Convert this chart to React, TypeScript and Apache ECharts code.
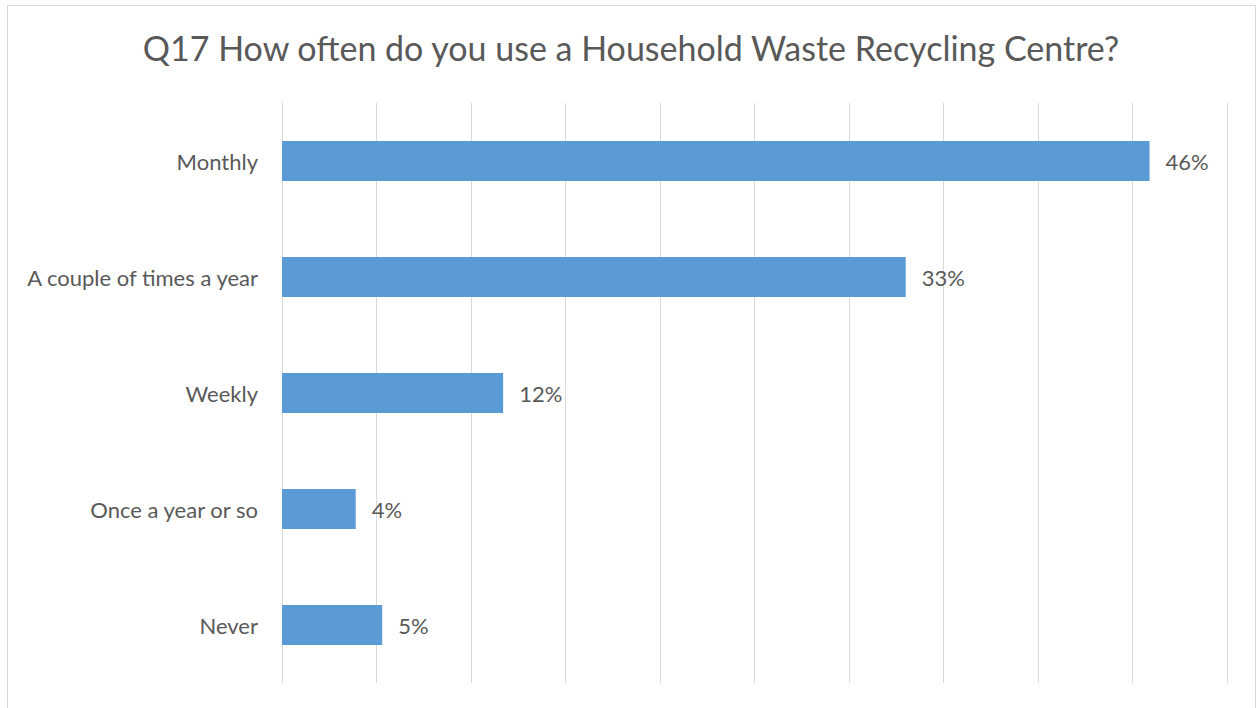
import React, { useEffect, useRef } from "react";
import * as echarts from "echarts";

const titleText = "Q17 How often do you use a Household Waste Recycling Centre?";
const categories = ["Monthly", "A couple of times a year", "Weekly", "Once a year or so", "Never"];
const values = [45.9, 33.0, 11.7, 3.9, 5.3];
const axisMin = 0;
const axisMax = 50;
const axisInterval = 5;

const FONT = "Lato";
const TEXT = "#595959";

export default function App() {
  const ref = useRef<HTMLDivElement>(null);
  useEffect(() => {
    if (!ref.current) return;
    const chart = echarts.init(ref.current, null, { renderer: "svg" });
    chart.setOption({
      animation: false,
      backgroundColor: "#ffffff",
      title: {
        text: titleText,
        left: 626,
        textAlign: "center",
        top: 25,
        textStyle: { fontFamily: FONT, fontSize: 34, fontWeight: "normal", color: TEXT },
      },
      graphic: [
        {
          type: "rect",
          shape: { x: 7.5, y: 5.5, width: 1248, height: 720 },
          style: { fill: "none", stroke: "#d9d9d9", lineWidth: 1 },
          silent: true,
        },
      ],
      grid: { left: 282, right: 30, top: 103, bottom: 25, containLabel: false },
      xAxis: {
        type: "value",
        min: axisMin,
        max: axisMax,
        interval: axisInterval,
        axisLabel: { show: false },
        axisLine: { show: false },
        axisTick: { show: false },
        splitLine: { show: true, lineStyle: { color: "#d9d9d9", width: 1 } },
      },
      yAxis: {
        type: "category",
        data: categories,
        inverse: true,
        axisLine: { show: true, lineStyle: { color: "#d9d9d9", width: 1 } },
        axisTick: { show: false },
        axisLabel: { color: TEXT, fontFamily: FONT, fontSize: 22, margin: 24 },
      },
      series: [
        {
          type: "bar",
          data: values,
          barWidth: 40,
          itemStyle: { color: "#5b9bd5" },
          label: {
            show: true,
            position: "right",
            distance: 16,
            color: TEXT,
            fontFamily: FONT,
            fontSize: 22,
            formatter: (p: any) => Math.round(p.value) + "%",
          },
        },
      ],
    });
    return () => chart.dispose();
  }, []);
  return (
    <div
      ref={ref}
      style={{ position: "absolute", left: 0, top: 0, width: 1257, height: 708 }}
    />
  );
}
